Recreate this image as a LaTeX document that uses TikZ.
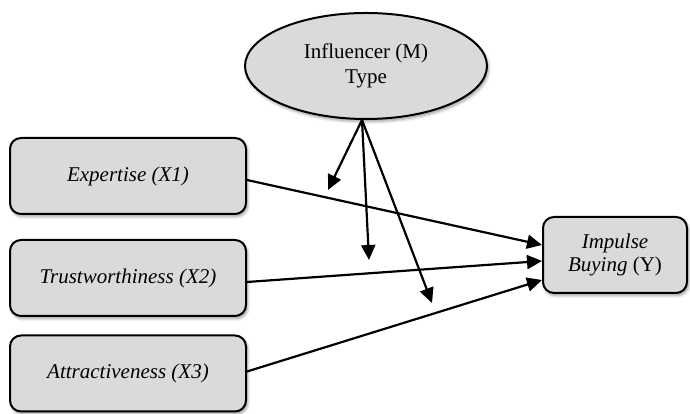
\documentclass[tikz,border=0pt]{standalone}
\usepackage{fontspec}
\setmainfont{Liberation Serif}
\usetikzlibrary{shapes.geometric,arrows.meta,shadows.blur}
\begin{document}
\begin{tikzpicture}[x=1pt,y=1pt,
  boxnode/.style={draw=black,line width=2pt,fill=gray!29,rounded corners=11pt,
    minimum width=236pt,minimum height=76pt,font=\fontsize{21}{25}\selectfont\itshape,
    blur shadow={shadow xshift=1.5pt,shadow yshift=-2.5pt,shadow blur steps=6,shadow blur radius=3pt}},
  conn/.style={line width=2.2pt,-{Triangle[length=15pt,width=14pt]}}]
\useasboundingbox (0,0) rectangle (690,414);
\node[ellipse,draw=black,line width=2pt,fill=gray!29,minimum width=242pt,minimum height=106pt,
  align=center,font=\fontsize{21}{25}\selectfont,
  blur shadow={shadow xshift=1.5pt,shadow yshift=-2.5pt,shadow blur steps=6,shadow blur radius=3pt}]
  (M) at (366,348) {Influencer (M)\\Type};
\node[boxnode] (X1) at (128,238) {Expertise (X1)};
\node[boxnode] (X2) at (128,136) {Trustworthiness (X2)};
\node[boxnode] (X3) at (128,40.5) {Attractiveness (X3)};
\node[boxnode,minimum width=144pt,minimum height=76pt,align=center,font=\fontsize{21}{23}\selectfont]
  (Y) at (615,159) {\textit{Impulse}\\\textit{Buying} (Y)};
\coordinate (ms) at (362,294);
\coordinate (t1) at (328,224);
\coordinate (t2) at (369,154);
\coordinate (t3) at (432,111);
\draw[conn] ([yshift=-4pt]X1.east) -- ([yshift=10pt]Y.west);
\draw[conn] ([yshift=-4pt]X2.east) -- ([yshift=-6pt]Y.west);
\draw[conn] ([yshift=2pt]X3.east) -- ([yshift=-25pt]Y.west);
\draw[conn] (ms) -- (t1);
\draw[conn] (ms) -- (t2);
\draw[conn] (ms) -- (t3);
\end{tikzpicture}
\end{document}
